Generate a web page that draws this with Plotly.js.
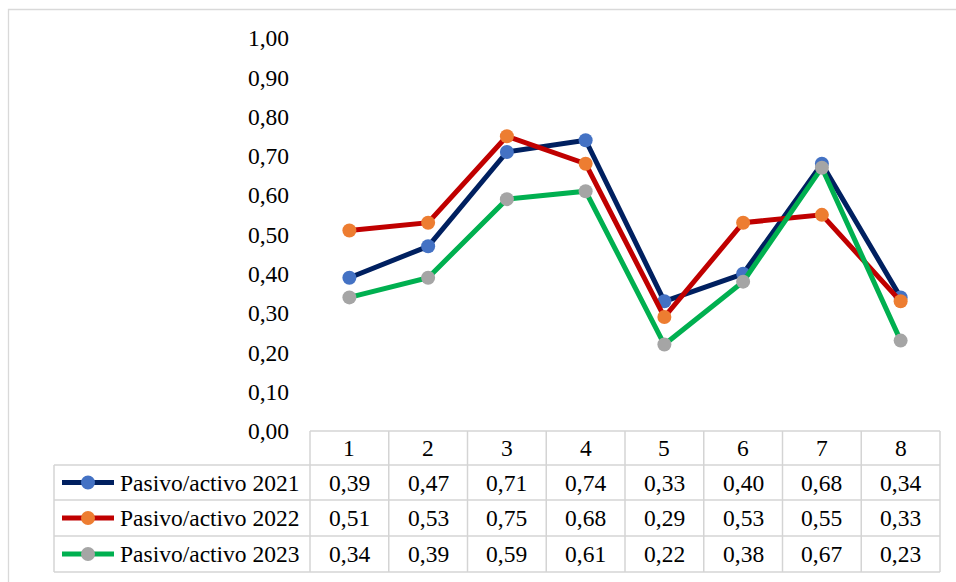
<!DOCTYPE html>
<html>
<head>
<meta charset="utf-8">
<script src="https://cdn.plot.ly/plotly-3.0.1.min.js"></script>
<style>html,body{margin:0;padding:0;background:#fff;}#chart{width:956px;height:582px;}</style>
</head>
<body>
<div id="chart"></div>
<script>
const categories = [1, 2, 3, 4, 5, 6, 7, 8];
const seriesNames = ["Pasivo/activo 2021", "Pasivo/activo 2022", "Pasivo/activo 2023"];
const values2021 = [0.39, 0.47, 0.71, 0.74, 0.33, 0.40, 0.68, 0.34];
const values2022 = [0.51, 0.53, 0.75, 0.68, 0.29, 0.53, 0.55, 0.33];
const values2023 = [0.34, 0.39, 0.59, 0.61, 0.22, 0.38, 0.67, 0.23];
const yTicks = [0, 0.1, 0.2, 0.3, 0.4, 0.5, 0.6, 0.7, 0.8, 0.9, 1.0];

const allValues = [values2021, values2022, values2023];
const lineColors = ["#002060", "#C00000", "#00B050"];
const markerColors = ["#4472C4", "#ED7D31", "#A5A5A5"];

const W = 956, H = 582;
const mL = 310, mR = 16, mT = 38, mB = 151;
const plotW = W - mL - mR, plotH = H - mT - mB;
const xRange = [0.5, 8.5];
const px2paperX = p => (p - mL) / plotW;
const px2paperY = p => (H - mB - p) / plotH;
const xToPaper = v => (v - xRange[0]) / (xRange[1] - xRange[0]);
const FONT = "Liberation Serif";
const FS = 23.5;
const gridColor = "#d4d4d4";

const fmt = v => v.toFixed(2).replace(".", ",");

const traces = allValues.map((vals, i) => ({
  type: "scatter",
  mode: "lines+markers",
  x: categories,
  y: vals,
  name: seriesNames[i],
  line: {color: lineColors[i], width: 5},
  marker: {color: markerColors[i], size: 14},
  cliponaxis: false,
  hoverinfo: "skip"
}));

const rowTops = [431, 465, 500, 536, 572];
const leftPx = 54;
const shapes = [];
const annotations = [];

shapes.push({type: "rect", xref: "paper", yref: "paper",
  x0: px2paperX(8.5), x1: px2paperX(990), y0: px2paperY(620), y1: px2paperY(9.5),
  line: {color: "#d9d9d9", width: 1.3}, fillcolor: "rgba(0,0,0,0)", layer: "below"});

rowTops.forEach((p, k) => {
  shapes.push({type: "line", xref: "paper", yref: "paper",
    x0: k === 0 ? 0 : px2paperX(leftPx), x1: 1,
    y0: px2paperY(p), y1: px2paperY(p),
    line: {color: gridColor, width: 1.5}});
});
for (let b = 0; b <= categories.length; b++) {
  const xv = xToPaper(categories[0] - 0.5 + b);
  shapes.push({type: "line", xref: "paper", yref: "paper",
    x0: xv, x1: xv, y0: px2paperY(rowTops[0]), y1: px2paperY(rowTops[4]),
    line: {color: gridColor, width: 1.5}});
}
shapes.push({type: "line", xref: "paper", yref: "paper",
  x0: px2paperX(leftPx), x1: px2paperX(leftPx), y0: px2paperY(rowTops[1]), y1: px2paperY(rowTops[4]),
  line: {color: gridColor, width: 1.5}});

categories.forEach(c => {
  annotations.push({xref: "x", yref: "paper", x: c, y: px2paperY((rowTops[0] + rowTops[1]) / 2),
    text: String(c), showarrow: false, xanchor: "center", yanchor: "middle",
    font: {family: FONT, size: FS, color: "#000"}});
});

allValues.forEach((vals, i) => {
  const cy = px2paperY((rowTops[i + 1] + rowTops[i + 2]) / 2);
  shapes.push({type: "line", xref: "paper", yref: "paper",
    x0: px2paperX(62), x1: px2paperX(114), y0: cy, y1: cy,
    line: {color: lineColors[i], width: 5}});
  shapes.push({type: "circle", xref: "paper", yref: "paper",
    xsizemode: "pixel", ysizemode: "pixel", xanchor: px2paperX(88), yanchor: cy,
    x0: -7, x1: 7, y0: -7, y1: 7,
    fillcolor: markerColors[i], line: {color: markerColors[i], width: 0}});
  annotations.push({xref: "paper", yref: "paper", x: px2paperX(118), y: cy,
    text: seriesNames[i], showarrow: false, xanchor: "left", yanchor: "middle",
    font: {family: FONT, size: FS, color: "#000"}});
  vals.forEach((v, j) => {
    annotations.push({xref: "x", yref: "paper", x: categories[j], y: cy,
      text: fmt(v), showarrow: false, xanchor: "center", yanchor: "middle",
      font: {family: FONT, size: FS, color: "#000"}});
  });
});

const layout = {
  width: W, height: H,
  margin: {l: mL, r: mR, t: mT, b: mB, pad: 0},
  paper_bgcolor: "#fff", plot_bgcolor: "#fff",
  showlegend: false,
  separators: ",.",
  font: {family: FONT, size: FS, color: "#000"},
  xaxis: {range: xRange, showgrid: false, zeroline: false, showline: false,
    showticklabels: false, ticks: "", fixedrange: true},
  yaxis: {range: [0, 1], tickvals: yTicks, tickformat: ".2f", showgrid: false,
    zeroline: false, showline: false, ticks: "", ticklabelstandoff: 20,
    tickfont: {family: FONT, size: FS, color: "#000"}, fixedrange: true},
  shapes: shapes,
  annotations: annotations
};

Plotly.newPlot("chart", traces, layout, {displayModeBar: false, staticPlot: true});
</script>
</body>
</html>
